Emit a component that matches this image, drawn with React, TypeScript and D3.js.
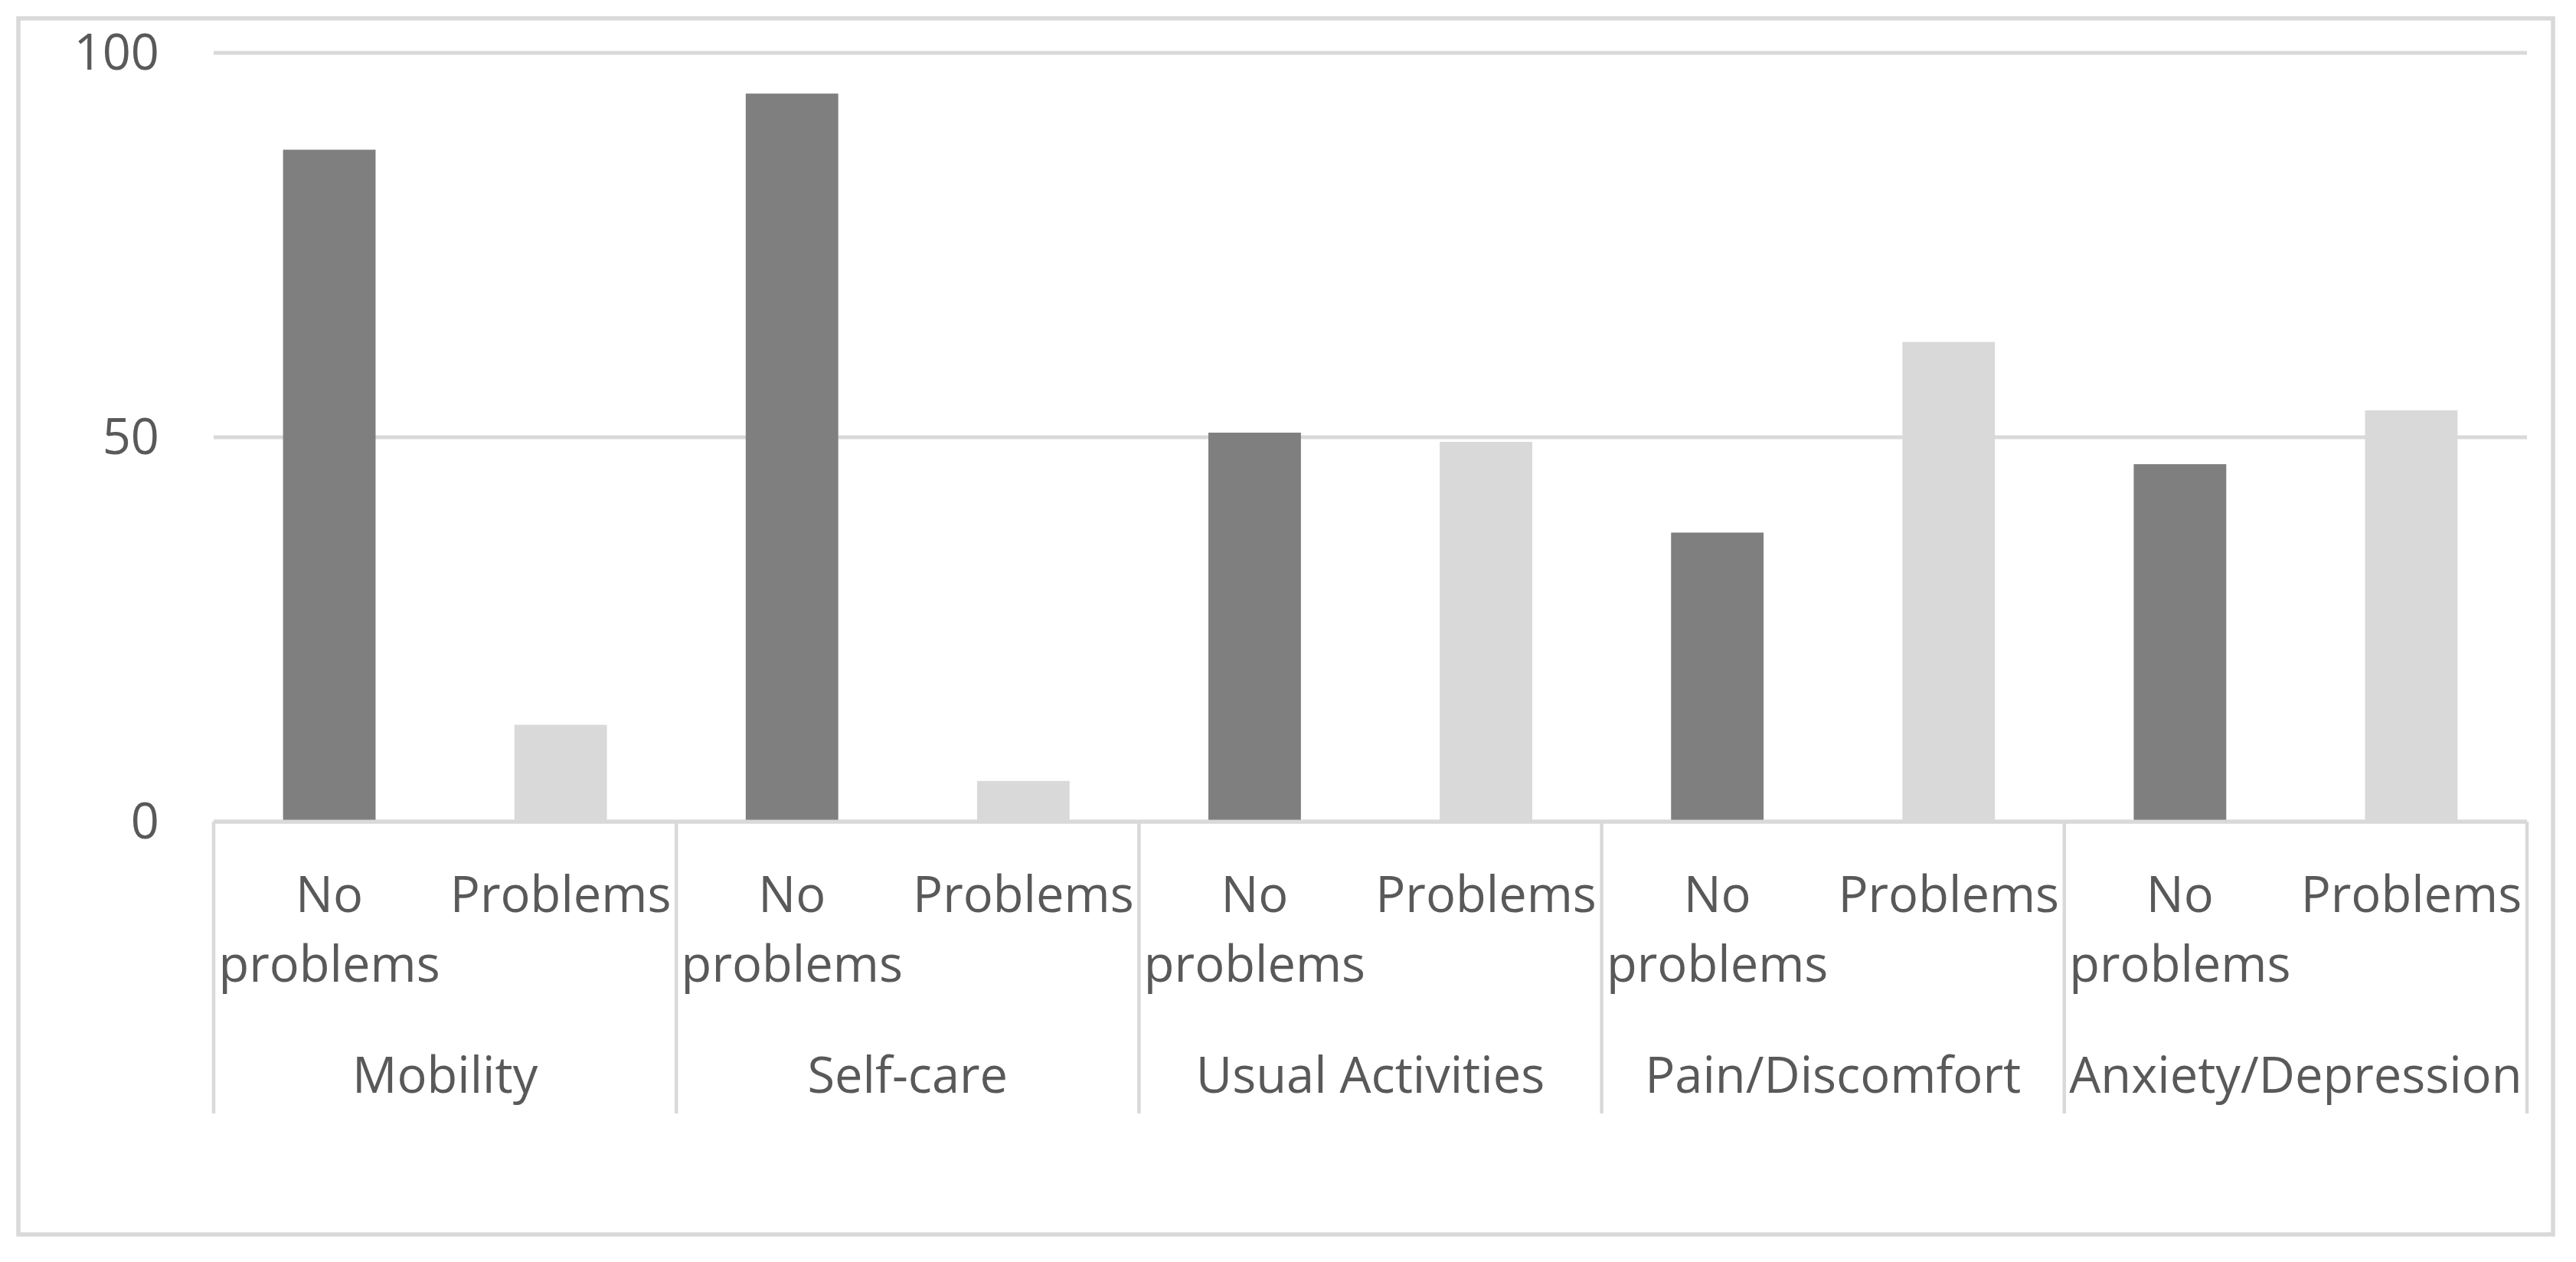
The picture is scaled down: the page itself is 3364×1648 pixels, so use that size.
import React from "react";
import * as d3 from "d3";

const groups = ["Mobility", "Self-care", "Usual Activities", "Pain/Discomfort", "Anxiety/Depression"];
const levels = ["No problems", "Problems"];
const noProblems = [87.4, 94.7, 50.6, 37.6, 46.5];
const problems = [12.6, 5.3, 49.4, 62.4, 53.5];
const yTicks = [0, 50, 100];

const W = 3364;
const H = 1648;
const FONT = "'Open Sans', 'Liberation Sans', sans-serif";
const TEXT = "#595959";
const GRID = "#d9d9d9";
const DARK = "#7f7f7f";
const LIGHT = "#d9d9d9";

export default function App() {
  const left = 279, right = 3300, top = 69, bottom = 1073;
  const y = d3.scaleLinear().domain([0, 100]).range([bottom, top]);
  const items = groups.flatMap((g, gi) => [
    { key: `${g}-0`, group: g, level: levels[0], value: noProblems[gi], color: DARK },
    { key: `${g}-1`, group: g, level: levels[1], value: problems[gi], color: LIGHT },
  ]);
  const x = d3.scaleBand<string>().domain(items.map((d) => d.key)).range([left, right]).paddingInner(0.6).paddingOuter(0.3);
  const gx = d3.scaleBand<string>().domain(groups).range([left, right]);
  const step = x.step();
  const fs = 65;

  return (
    <svg width={W} height={H} style={{ position: "absolute", left: 0, top: 0, background: "#fff" }} fontFamily={FONT}>
      <rect x={0} y={0} width={W} height={H} fill="#fff" />
      <rect x={24} y={24} width={3310} height={1588} fill="none" stroke={GRID} strokeWidth={5.5} />
      {yTicks.map((t) => (
        <g key={t}>
          <line x1={left} x2={right} y1={y(t)} y2={y(t)} stroke={GRID} strokeWidth={5} />
          <text x={208} y={y(t) + 22} textAnchor="end" fontSize={fs} fill={TEXT}>{t}</text>
        </g>
      ))}
      {items.map((d) => (
        <rect key={d.key} x={x(d.key)} y={y(d.value)} width={x.bandwidth()} height={y(0) - y(d.value)} fill={d.color} />
      ))}
      <line x1={left} x2={right} y1={y(0)} y2={y(0)} stroke={GRID} strokeWidth={5} />
      {[...groups.map((g) => gx(g) as number), right].map((px, i) => (
        <line key={i} x1={px} x2={px} y1={y(0)} y2={1454} stroke={GRID} strokeWidth={4.5} />
      ))}
      {items.map((d) => {
        const cx = (x(d.key) as number) + x.bandwidth() / 2;
        const words = d.level === "No problems" ? ["No", "problems"] : ["Problems"];
        return (
          <text key={d.key + "-lab"} textAnchor="middle" fontSize={fs} fill={TEXT}>
            {words.map((w, i) => (
              <tspan key={i} x={cx} y={1191 + i * 91}>{w}</tspan>
            ))}
          </text>
        );
      })}
      {groups.map((g) => (
        <text key={g} x={(gx(g) as number) + gx.bandwidth() / 2} y={1427} textAnchor="middle" fontSize={fs} fill={TEXT}>{g}</text>
      ))}
    </svg>
  );
}
